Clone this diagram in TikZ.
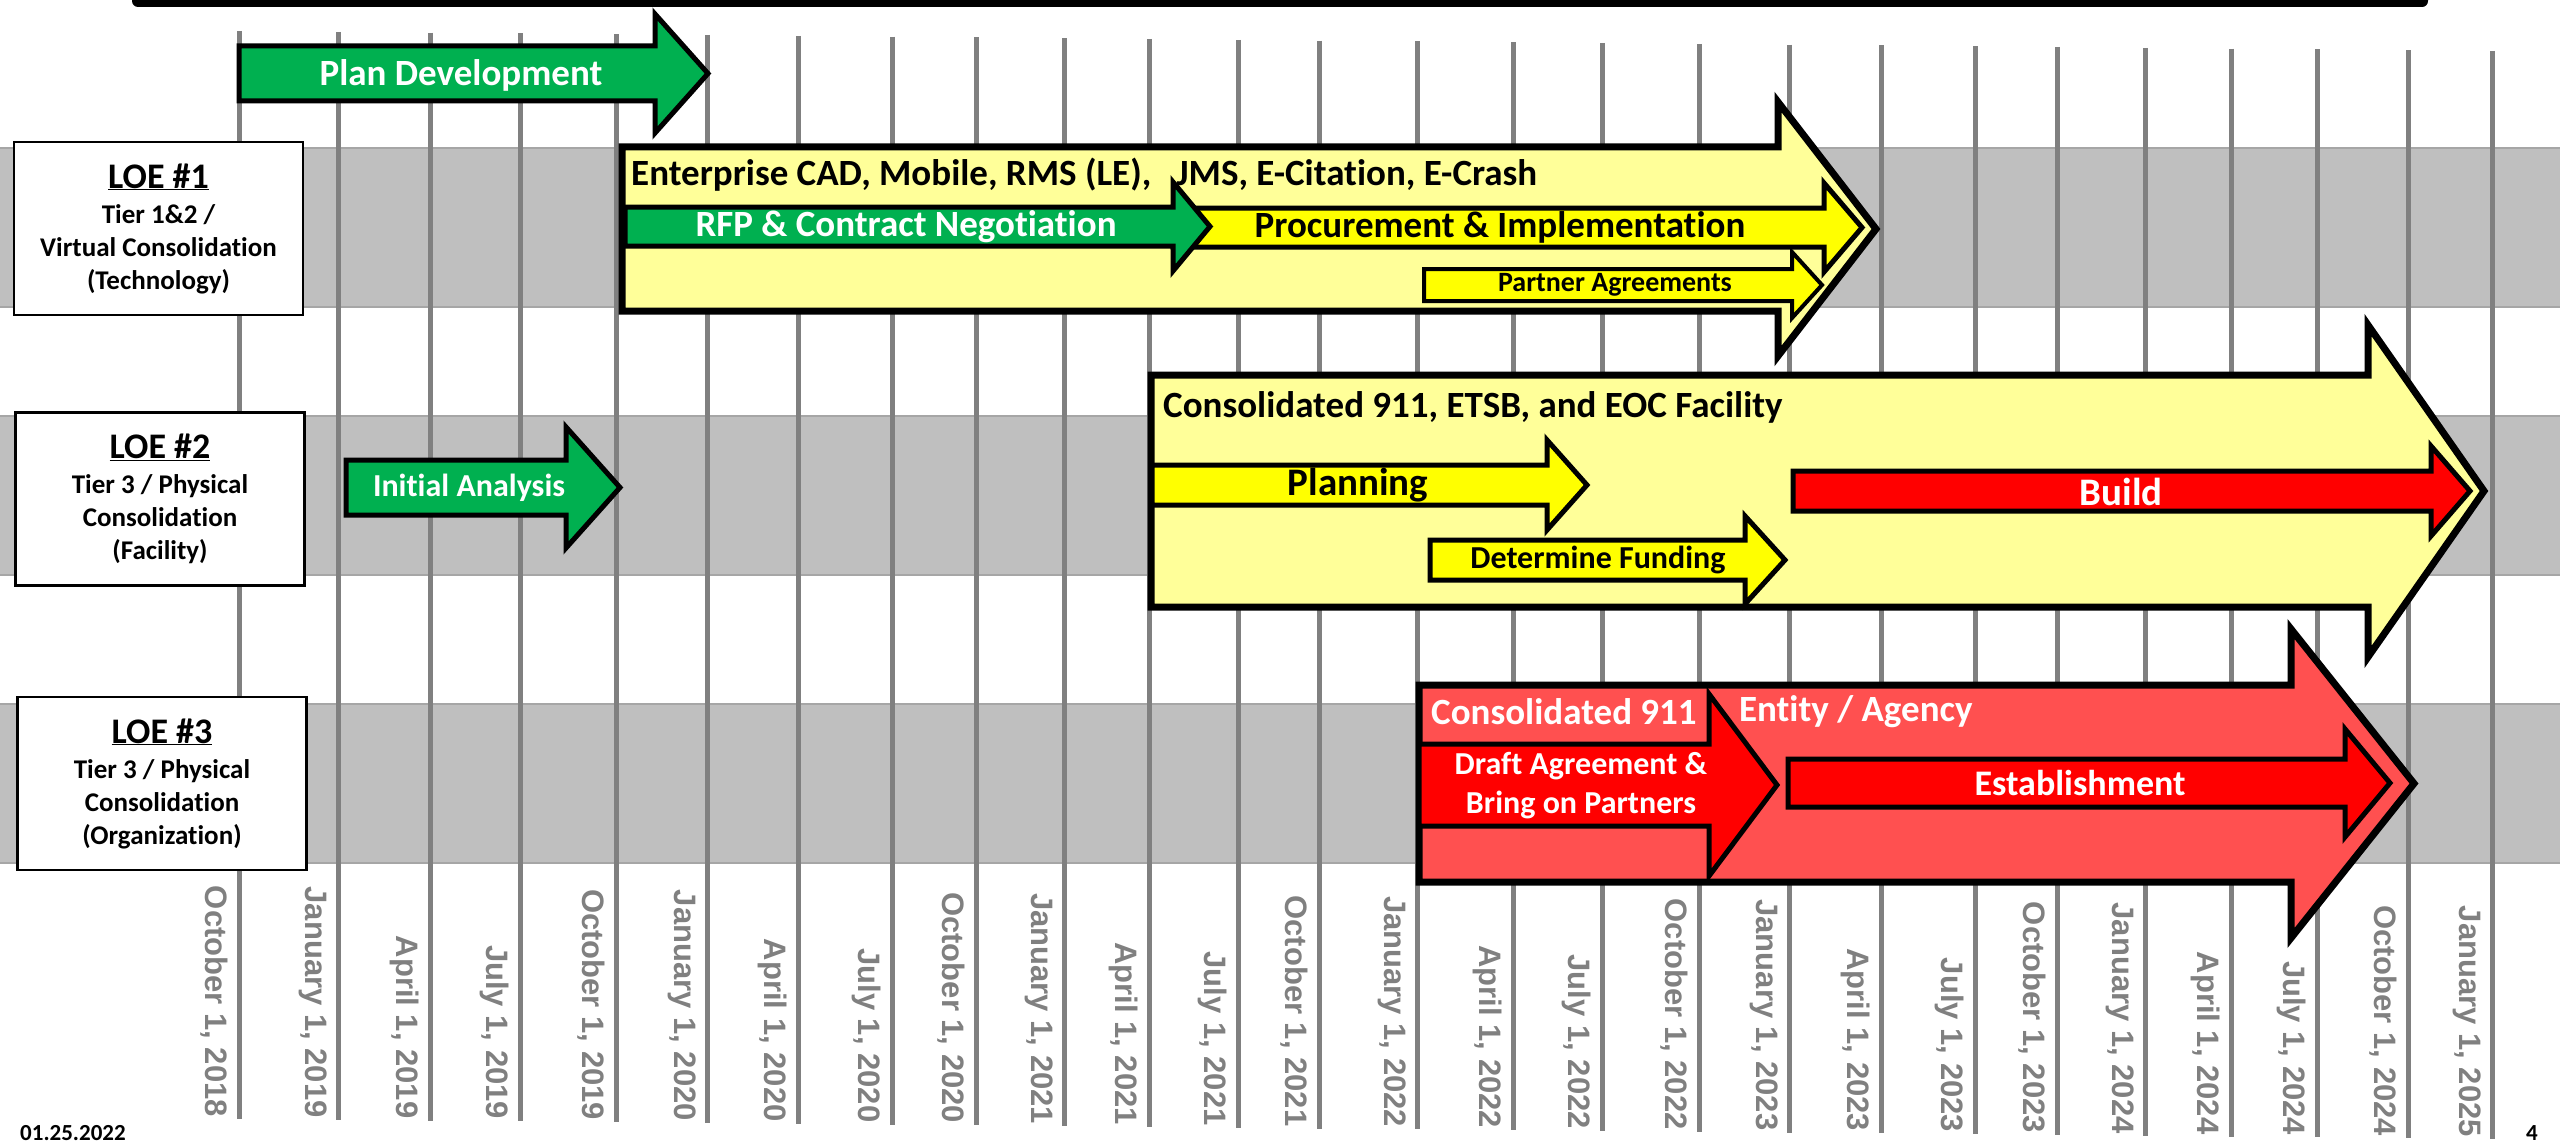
\documentclass[tikz,border=0pt]{standalone}
\usepackage{fontspec}
\setmainfont{Carlito}[Ligatures=NoCommon]
\newfontfamily\datefamily{Liberation Sans}
\usetikzlibrary{positioning}
\definecolor{taskgreen}{HTML}{00B050}
\definecolor{paleyellow}{HTML}{FFFF99}
\definecolor{taskyellow}{HTML}{FFFF00}
\definecolor{taskred}{HTML}{FF0000}
\definecolor{palered}{HTML}{FF5050}
\definecolor{bandgray}{HTML}{BFBFBF}
\definecolor{bandedge}{HTML}{A6A6A6}
\definecolor{gridgray}{HTML}{808080}
\def\fsz#1{\fontsize{#1}{#1}\selectfont\bfseries}
\newcommand{\loehead}[1]{{\fontsize{36}{36}\selectfont\underline{#1}}}
% block arrow: style, left, top, bottom, head x, head extend, tip
\newcommand{\taskarrow}[7]{%
  \draw[#1] (#2,#3) -- (#5,#3) -- (#5,#3-#6) -- (#7,{(#3+#4)/2}) -- (#5,#4+#6) -- (#5,#4) -- (#2,#4) -- cycle;}

\begin{document}
\begin{tikzpicture}[x=1pt, y=-1pt, line join=miter]
    \tikzstyle{band}=[fill=bandgray, draw=bandedge, line width=2.5pt]
    \tikzstyle{gridline}=[draw=gridgray, line width=5pt]
    \tikzstyle{datelbl}=[text=gridgray, rotate=-90, anchor=north east, inner sep=0pt, font=\datefamily\fsz{31}]
    \tikzstyle{loe box}=[draw=black, fill=white, line width=2.5pt, minimum width=289pt, minimum height=173pt, align=center, inner sep=0pt, font={\fontsize{27}{33}\selectfont\bfseries}]
    \tikzstyle{task}=[draw=black, line width=5pt]
    \tikzstyle{phase}=[draw=black, line width=7pt]
    \tikzstyle{green task}=[task, fill=taskgreen]
    \tikzstyle{yellow task}=[task, fill=taskyellow]
    \tikzstyle{red task}=[task, fill=taskred]
    \tikzstyle{tasklbl}=[inner sep=0pt, font=\fsz{37}]

    \useasboundingbox (0,0) rectangle (2560,1145);
    \clip (0,0) rectangle (2560,1145);

    % top rule
    \fill[black, rounded corners=6pt] (132,-12) rectangle (2428,7);

    % Draw the LOE bands
    \foreach \top in {148,416,704}
        \draw[band] (-5,\top) rectangle (2565,\top+159);

    % Draw the quarter lines and their dates
    \foreach \x/\m/\y [count=\i from 0] in {239/October/2018, 338/January/2019, 430/April/2019, 520/July/2019, 616/October/2019, 707/January/2020, 798/April/2020, 892/July/2020, 976/October/2020, 1064/January/2021, 1149/April/2021, 1238/July/2021, 1319/October/2021, 1417/January/2022, 1513/April/2022, 1602/July/2022, 1699/October/2022, 1789/January/2023, 1881/April/2023, 1975/July/2023, 2057/October/2023, 2145/January/2024, 2231/April/2024, 2317/July/2024, 2408/October/2024, 2492/January/2025}
    {
        \draw[gridline] (\x,31+0.8*\i) -- (\x,1119+0.8*\i);
        \node[datelbl] (d-\i) at (\x-11,1117+0.8*\i) {\m\ 1, \y};
    }

    % LOE boxes
    \node[loe box] (loe-1) at (158.5,228.5) {\loehead{LOE \#1}\\[2pt]Tier 1\&2 /\\Virtual Consolidation\\(Technology)};
    \node[loe box] (loe-2) at (160,499) {\loehead{LOE \#2}\\[2pt]Tier 3 / Physical\\Consolidation\\(Facility)};
    \node[loe box] (loe-3) at (162,783.5) {\loehead{LOE \#3}\\[2pt]Tier 3 / Physical\\Consolidation\\(Organization)};

    % LOE #1
    \taskarrow{green task}{239}{46}{101}{655}{32}{708}
    \node[tasklbl, text=white] (plan) at (461,75) {Plan Development};
    \taskarrow{phase, fill=paleyellow}{622}{147}{311}{1778}{45}{1876}
    \node[tasklbl, anchor=west] (tech) at (631,175) {Enterprise CAD, Mobile, RMS (LE),\ \ \ JMS, E-Citation, E-Crash};
    \taskarrow{yellow task}{1173}{208}{247}{1824}{25}{1862}
    \taskarrow{green task}{625}{207}{246}{1173}{25}{1210}
    \node[tasklbl, text=white] (rfp) at (906,227) {RFP \& Contract Negotiation};
    \node[tasklbl] (proc) at (1500,227) {Procurement \& Implementation};
    \taskarrow{yellow task, line width=4pt}{1424}{269}{301}{1792}{17}{1822}
    \node[tasklbl, font=\fsz{28}] (partner) at (1615,285) {Partner Agreements};

    % LOE #2
    \taskarrow{green task}{346}{460}{515}{566}{33}{620}
    \node[tasklbl, text=white, font=\fsz{32}] (analysis) at (469,488) {Initial Analysis};
    \taskarrow{phase, fill=paleyellow}{1151}{375}{607}{2368}{50}{2484}
    \node[tasklbl, anchor=west] (facility) at (1163,407) {Consolidated 911, ETSB, and EOC Facility};
    \taskarrow{yellow task}{1152}{465}{505}{1547}{25}{1587}
    \node[tasklbl, font=\fsz{39}] (planning) at (1358,485) {Planning};
    \taskarrow{yellow task}{1430}{540}{580}{1745}{24}{1785}
    \node[tasklbl, font=\fsz{32}] (funding) at (1598,560) {Determine Funding};
    \taskarrow{red task}{1793}{471}{511}{2431}{25}{2470}
    \node[tasklbl, text=white, font=\fsz{39}] (build) at (2121,492) {Build};

    % LOE #3
    \taskarrow{phase, fill=palered}{1419}{685}{882}{2291}{56}{2414}
    \taskarrow{red task}{1419}{744}{826}{1709}{50}{1777}
    \node[tasklbl, text=white, align=center, font={\fontsize{32}{39}\selectfont\bfseries}] (draft) at (1581,786) {Draft Agreement \&\\Bring on Partners};
    \node[tasklbl, anchor=west, text=white] (c911) at (1431,712) {Consolidated 911};
    \node[tasklbl, anchor=west, text=white, right=42pt of c911] (agency) {Entity / Agency};
    \taskarrow{red task}{1788}{759}{807}{2345}{30}{2390}
    \node[tasklbl, text=white, font=\fsz{36}] (establish) at (2080,783) {Establishment};

    % footer
    \node[inner sep=0pt, anchor=base west, font=\fsz{23}] (stamp) at (20,1140) {01.25.2022};
    \node[inner sep=0pt, anchor=base, font=\fsz{23}] (page) at (2532,1140) {4};
\end{tikzpicture}
\end{document}
